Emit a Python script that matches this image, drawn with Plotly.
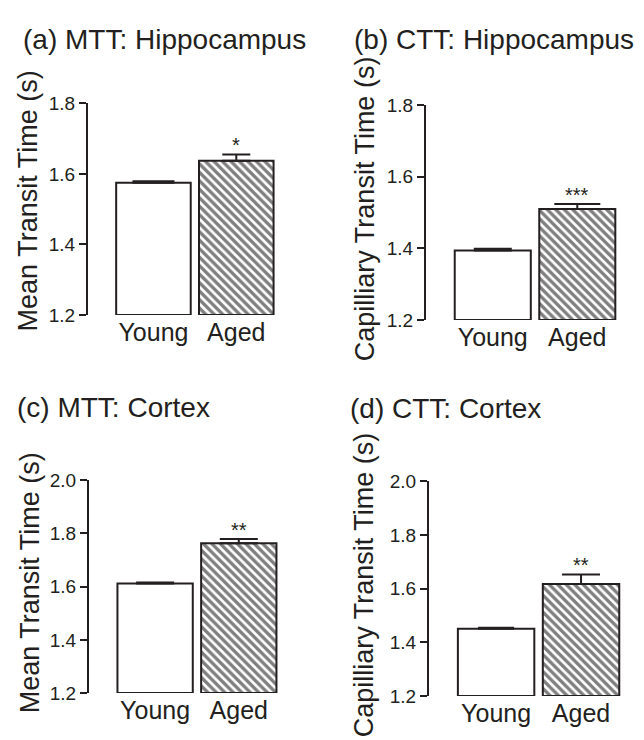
import plotly.graph_objects as go

# ---------------- data ----------------
categories = ["Young", "Aged"]
panel_titles = ["(a) MTT: Hippocampus", "(b) CTT: Hippocampus",
                "(c) MTT: Cortex", "(d) CTT: Cortex"]
y_titles = ["Mean Transit Time (s)", "Capilliary Transit Time (s)",
            "Mean Transit Time (s)", "Capilliary Transit Time (s)"]
young_means = [1.575, 1.394, 1.612, 1.450]
young_sem = [0.004, 0.005, 0.004, 0.004]
aged_means = [1.637, 1.510, 1.763, 1.617]
aged_sem = [0.018, 0.014, 0.016, 0.036]
significance = ["*", "***", "**", "**"]
y_ranges = [[1.2, 1.8], [1.2, 1.8], [1.2, 2.0], [1.2, 2.0]]
y_ticks = [[1.2, 1.4, 1.6, 1.8], [1.2, 1.4, 1.6, 1.8],
           [1.2, 1.4, 1.6, 1.8, 2.0], [1.2, 1.4, 1.6, 1.8, 2.0]]

# ---------------- layout helpers (pixels) ----------------
W, H = 644, 740
INK = "#231f20"
FONT = "Liberation Sans, Arial, Helvetica, sans-serif"

# x0, x1, ytop, ybottom of each plot area
boxes = [(88, 286, 96, 314), (426, 628, 98, 319),
         (89, 289, 484, 703), (429, 632, 485, 706)]
title_pos = [(21, 30), (352, 30), (15, 409), (348, 410)]
ylab_pos = [(28, 197), (365, 205), (30, 590), (364, 592)]
cap_young = [21, 19, 19, 18]
cap_aged = [14, 23, 19, 19]

def px(x):
    return x / W

def py(y):
    return 1 - y / H

fig = go.Figure()
annotations = []

for i in range(4):
    ax = "" if i == 0 else str(i + 1)
    xa, ya = "x" + ax, "y" + ax
    base = y_ranges[i][0]
    fig.add_trace(go.Bar(
        x=[categories[0]], y=[young_means[i] - base], base=base,
        width=0.9, xaxis=xa, yaxis=ya, showlegend=False,
        marker=dict(color="white", line=dict(color=INK, width=2)),
        error_y=dict(type="data", symmetric=False, array=[young_sem[i]],
                     arrayminus=[0], color=INK, thickness=2, width=cap_young[i]),
    ))
    fig.add_trace(go.Bar(
        x=[categories[1]], y=[aged_means[i] - base], base=base,
        width=0.9, xaxis=xa, yaxis=ya, showlegend=False,
        marker=dict(color="white", line=dict(color=INK, width=2),
                    pattern=dict(shape="\\", fgcolor="#000000", bgcolor="white",
                                 size=6, solidity=0.55, fillmode="overlay")),
        error_y=dict(type="data", symmetric=False, array=[aged_sem[i]],
                     arrayminus=[0], color=INK, thickness=2, width=cap_aged[i]),
    ))
    x0, x1, yt, yb = boxes[i]
    fig.update_layout(**{
        "xaxis" + ax: dict(domain=[px(x0), px(x1)], range=[-0.79, 1.6],
                           type="category", categoryorder="array",
                           categoryarray=categories,
                           showline=False, showgrid=False, zeroline=False,
                           ticks="", tickfont=dict(size=25, color=INK, family=FONT),
                           anchor=ya, fixedrange=True),
        "yaxis" + ax: dict(domain=[py(yb), py(yt)], range=y_ranges[i],
                           tickvals=y_ticks[i], tickformat=".1f",
                           showline=True, linewidth=2, linecolor=INK,
                           ticks="outside", ticklen=7, tickwidth=2, tickcolor=INK,
                           showgrid=False, zeroline=False,
                           tickfont=dict(size=19, color=INK, family=FONT),
                           anchor=xa, fixedrange=True),
    })
    annotations.append(dict(
        x=categories[1], y=aged_means[i] + aged_sem[i], xref=xa, yref=ya,
        text=significance[i], showarrow=False, yanchor="bottom", yshift=-4,
        font=dict(size=20, color=INK, family=FONT)))
    tx, ty = title_pos[i]
    annotations.append(dict(
        x=px(tx), y=py(ty), xref="paper", yref="paper", xanchor="left",
        yanchor="middle", text=panel_titles[i], showarrow=False,
        font=dict(size=28, color=INK, family=FONT)))
    lx, ly = ylab_pos[i]
    annotations.append(dict(
        x=px(lx), y=py(ly), xref="paper", yref="paper", xanchor="center",
        yanchor="middle", text=y_titles[i], textangle=-90, showarrow=False,
        font=dict(size=27, color=INK, family=FONT)))

fig.update_layout(
    width=W, height=H, margin=dict(l=0, r=0, t=0, b=0),
    paper_bgcolor="white", plot_bgcolor="white",
    annotations=annotations, bargap=0, hovermode=False,
    font=dict(family=FONT, color=INK),
)

fig.write_html(
    "out.html",
    config={"displayModeBar": False, "staticPlot": True},
    post_script="document.body.style.margin='0';"
                "document.documentElement.style.overflow='hidden';",
)
